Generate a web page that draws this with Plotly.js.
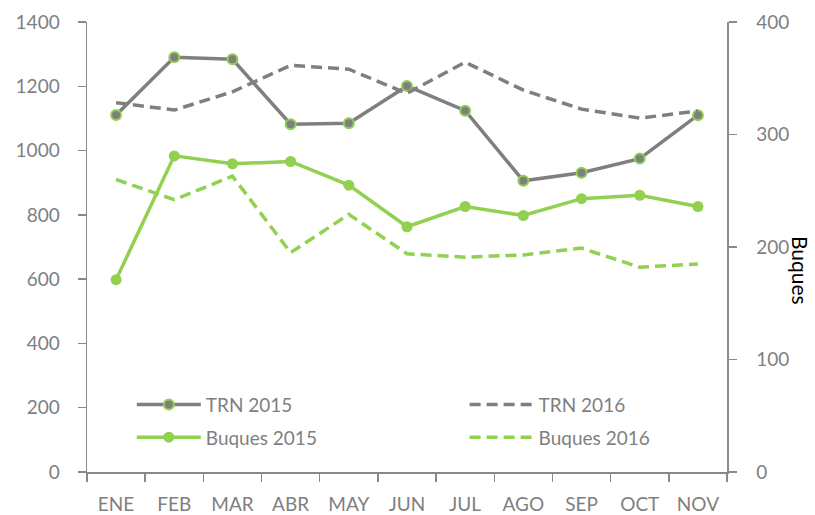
<!DOCTYPE html>
<html>
<head>
<meta charset="utf-8">
<script src="https://cdn.plot.ly/plotly-3.0.1.min.js"></script>
<style>html,body{margin:0;padding:0;background:#fff}#chart{width:815px;height:515px}</style>
</head>
<body>
<div id="chart"></div>
<script>
const months = ["ENE","FEB","MAR","ABR","MAY","JUN","JUL","AGO","SEP","OCT","NOV"];
const trn2015 = [1111,1290,1284,1082,1085,1201,1124,906,931,975,1110];
const trn2016 = [1149,1126,1183,1265,1253,1178,1275,1188,1129,1101,1123];
const buques2015 = [171,281,274,276,255,218,236,228,243,246,236];
const buques2016 = [260,242,263,195,229,194,191,193,199,182,185];
const leftTicks = [0,200,400,600,800,1000,1200,1400];
const rightTicks = [0,100,200,300,400];

const gray = "#7f7f7f";
const green = "#92d050";
const axisColor = "#898989";
const textColor = "#7f7f7f";
const fontFam = "Lato, 'Open Sans', sans-serif";
const fs = 19;

const traces = [
  {x: months, y: trn2015, name: "TRN 2015", type: "scatter", mode: "lines+markers",
   legend: "legend", legendgroup: "a",
   line: {color: gray, width: 3.5},
   marker: {color: gray, size: 10, line: {color: green, width: 2}}},
  {x: months, y: trn2016, name: "TRN 2016", type: "scatter", mode: "lines",
   legend: "legend2", legendgroup: "b",
   line: {color: gray, width: 3.5, dash: "11px,6px"}},
  {x: months, y: buques2015, name: "Buques 2015", type: "scatter", mode: "lines+markers",
   legend: "legend", legendgroup: "c",
   yaxis: "y2", line: {color: green, width: 3.5},
   marker: {color: green, size: 11}},
  {x: months, y: buques2016, name: "Buques 2016", type: "scatter", mode: "lines",
   legend: "legend2", legendgroup: "d",
   yaxis: "y2", line: {color: green, width: 3.5, dash: "11px,6px"}}
];

const legendBase = {orientation: "v", xanchor: "left", yanchor: "top",
  traceorder: "grouped", tracegroupgap: 5,
  font: {family: fontFam, size: fs, color: textColor},
  bgcolor: "rgba(0,0,0,0)", itemwidth: 64};

const layout = {
  width: 815, height: 515,
  margin: {l: 87, r: 88, t: 22, b: 43},
  paper_bgcolor: "#fff", plot_bgcolor: "#fff",
  font: {family: fontFam, size: fs, color: textColor},
  showlegend: true,
  legend: Object.assign({}, legendBase, {x: 0.07, y: 0.192}),
  legend2: Object.assign({}, legendBase, {x: 0.59, y: 0.192}),
  xaxis: {type: "category", range: [-0.5, 10.5], autorange: false,
          tickson: "boundaries", ticks: "outside", ticklen: 8,
          tickcolor: axisColor, tickwidth: 1.5, showline: true, linecolor: axisColor,
          linewidth: 1.5, showgrid: false, zeroline: false, ticklabelstandoff: 15,
          tickfont: {family: fontFam, size: fs, color: textColor}},
  yaxis: {range: [0,1400], autorange: false, tickvals: leftTicks, ticktext: leftTicks.map(String),
          ticks: "outside", ticklen: 8, tickcolor: axisColor, tickwidth: 1.5,
          showline: true, linecolor: axisColor, linewidth: 1.5, showgrid: false,
          zeroline: false, ticklabelstandoff: 14,
          tickfont: {family: fontFam, size: fs, color: textColor}},
  yaxis2: {range: [0,400], autorange: false, tickvals: rightTicks, ticktext: rightTicks.map(String),
           overlaying: "y", side: "right", ticks: "outside", ticklen: 8,
           tickcolor: axisColor, tickwidth: 1.5, showline: true, linecolor: axisColor,
           linewidth: 1.5, showgrid: false, zeroline: false, ticklabelstandoff: 16,
           tickfont: {family: fontFam, size: fs, color: textColor}},
  annotations: [{text: "Buques", xref: "paper", yref: "paper", x: 1.114, y: 0.447,
                 xanchor: "center", yanchor: "middle", textangle: 90, showarrow: false,
                 font: {family: fontFam, size: 21, color: "#000"}}]
};

Plotly.newPlot("chart", traces, layout, {displayModeBar: false, staticPlot: true});
</script>
</body>
</html>
